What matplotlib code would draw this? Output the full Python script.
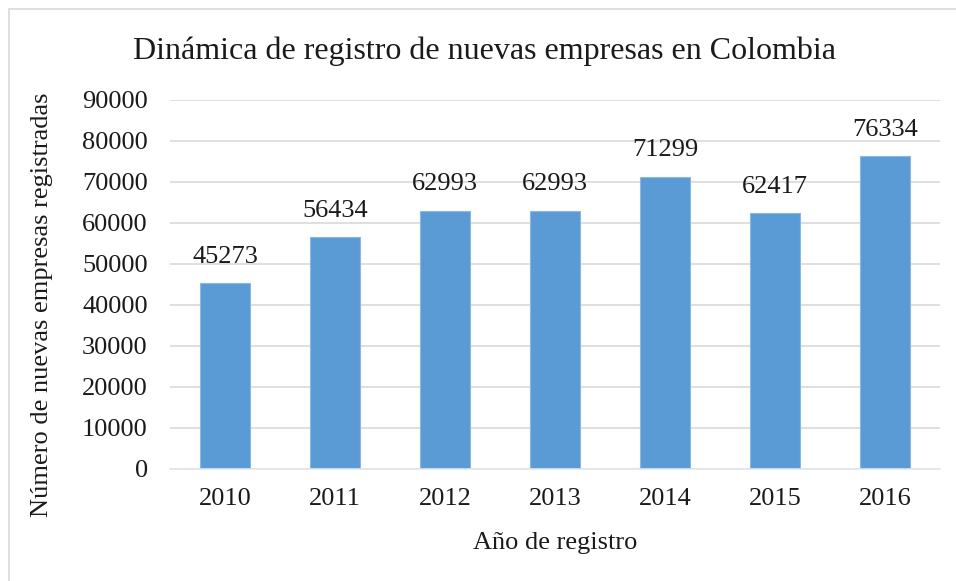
import matplotlib
matplotlib.use("Agg")
import matplotlib.pyplot as plt
from matplotlib.patches import Rectangle

years = ["2010", "2011", "2012", "2013", "2014", "2015", "2016"]
values = [45273, 56434, 62993, 62993, 71299, 62417, 76334]
yticks = [0, 10000, 20000, 30000, 40000, 50000, 60000, 70000, 80000, 90000]

plt.rcParams['font.family'] = ['Liberation Serif', 'DejaVu Serif']

W, H = 956, 581
fig = plt.figure(figsize=(W / 100, H / 100), dpi=100)
ax = fig.add_axes([170 / W, 1 - 468.5 / H, 770 / W, 368.5 / H])

x = list(range(len(years)))
ax.bar(x, values, width=0.455, color='#5B9BD5', edgecolor='#8AB8E2', linewidth=0.8, zorder=2)
for xi, v in zip(x, values):
    ax.annotate(str(v), (xi, v), xytext=(0, 11), textcoords='offset points',
                ha='center', va='bottom', fontsize=19, color='#1a1a1a')

ax.set_xlim(-0.5, len(years) - 0.5)
ax.set_ylim(0, 90000)
ax.set_yticks(yticks)
ax.set_yticklabels([str(t) for t in yticks])
ax.set_xticks(x)
ax.set_xticklabels(years)
ax.tick_params(axis='both', length=0, labelsize=19, colors='#1a1a1a')
ax.tick_params(axis='y', pad=16)
ax.tick_params(axis='x', pad=14)
ax.yaxis.grid(True, color='#d9d9d9', linewidth=1.2, zorder=0)
ax.set_axisbelow(True)
ax.axhline(0, color='#dfe6ee', linewidth=1.2, zorder=3, clip_on=False)
for s in ax.spines.values():
    s.set_visible(False)

fig.text(484 / W, 1 - 51 / H, "Dinámica de registro de nuevas empresas en Colombia",
         ha='center', va='center', fontsize=23, color='#1a1a1a')
fig.text(42 / W, 1 - 305 / H, "Número de nuevas empresas registradas", rotation=90,
         ha='center', va='center', fontsize=19, color='#1a1a1a')
fig.text(555 / W, 1 - 543 / H, "Año de registro", ha='center', va='center',
         fontsize=19, color='#1a1a1a')

fig.patches.append(Rectangle((9 / W, -0.05), 1.1, 1 - 9 / H + 0.05, transform=fig.transFigure,
                             fill=False, edgecolor='#d9d9d9', linewidth=1.2))

fig.savefig("out.png", dpi=100)
